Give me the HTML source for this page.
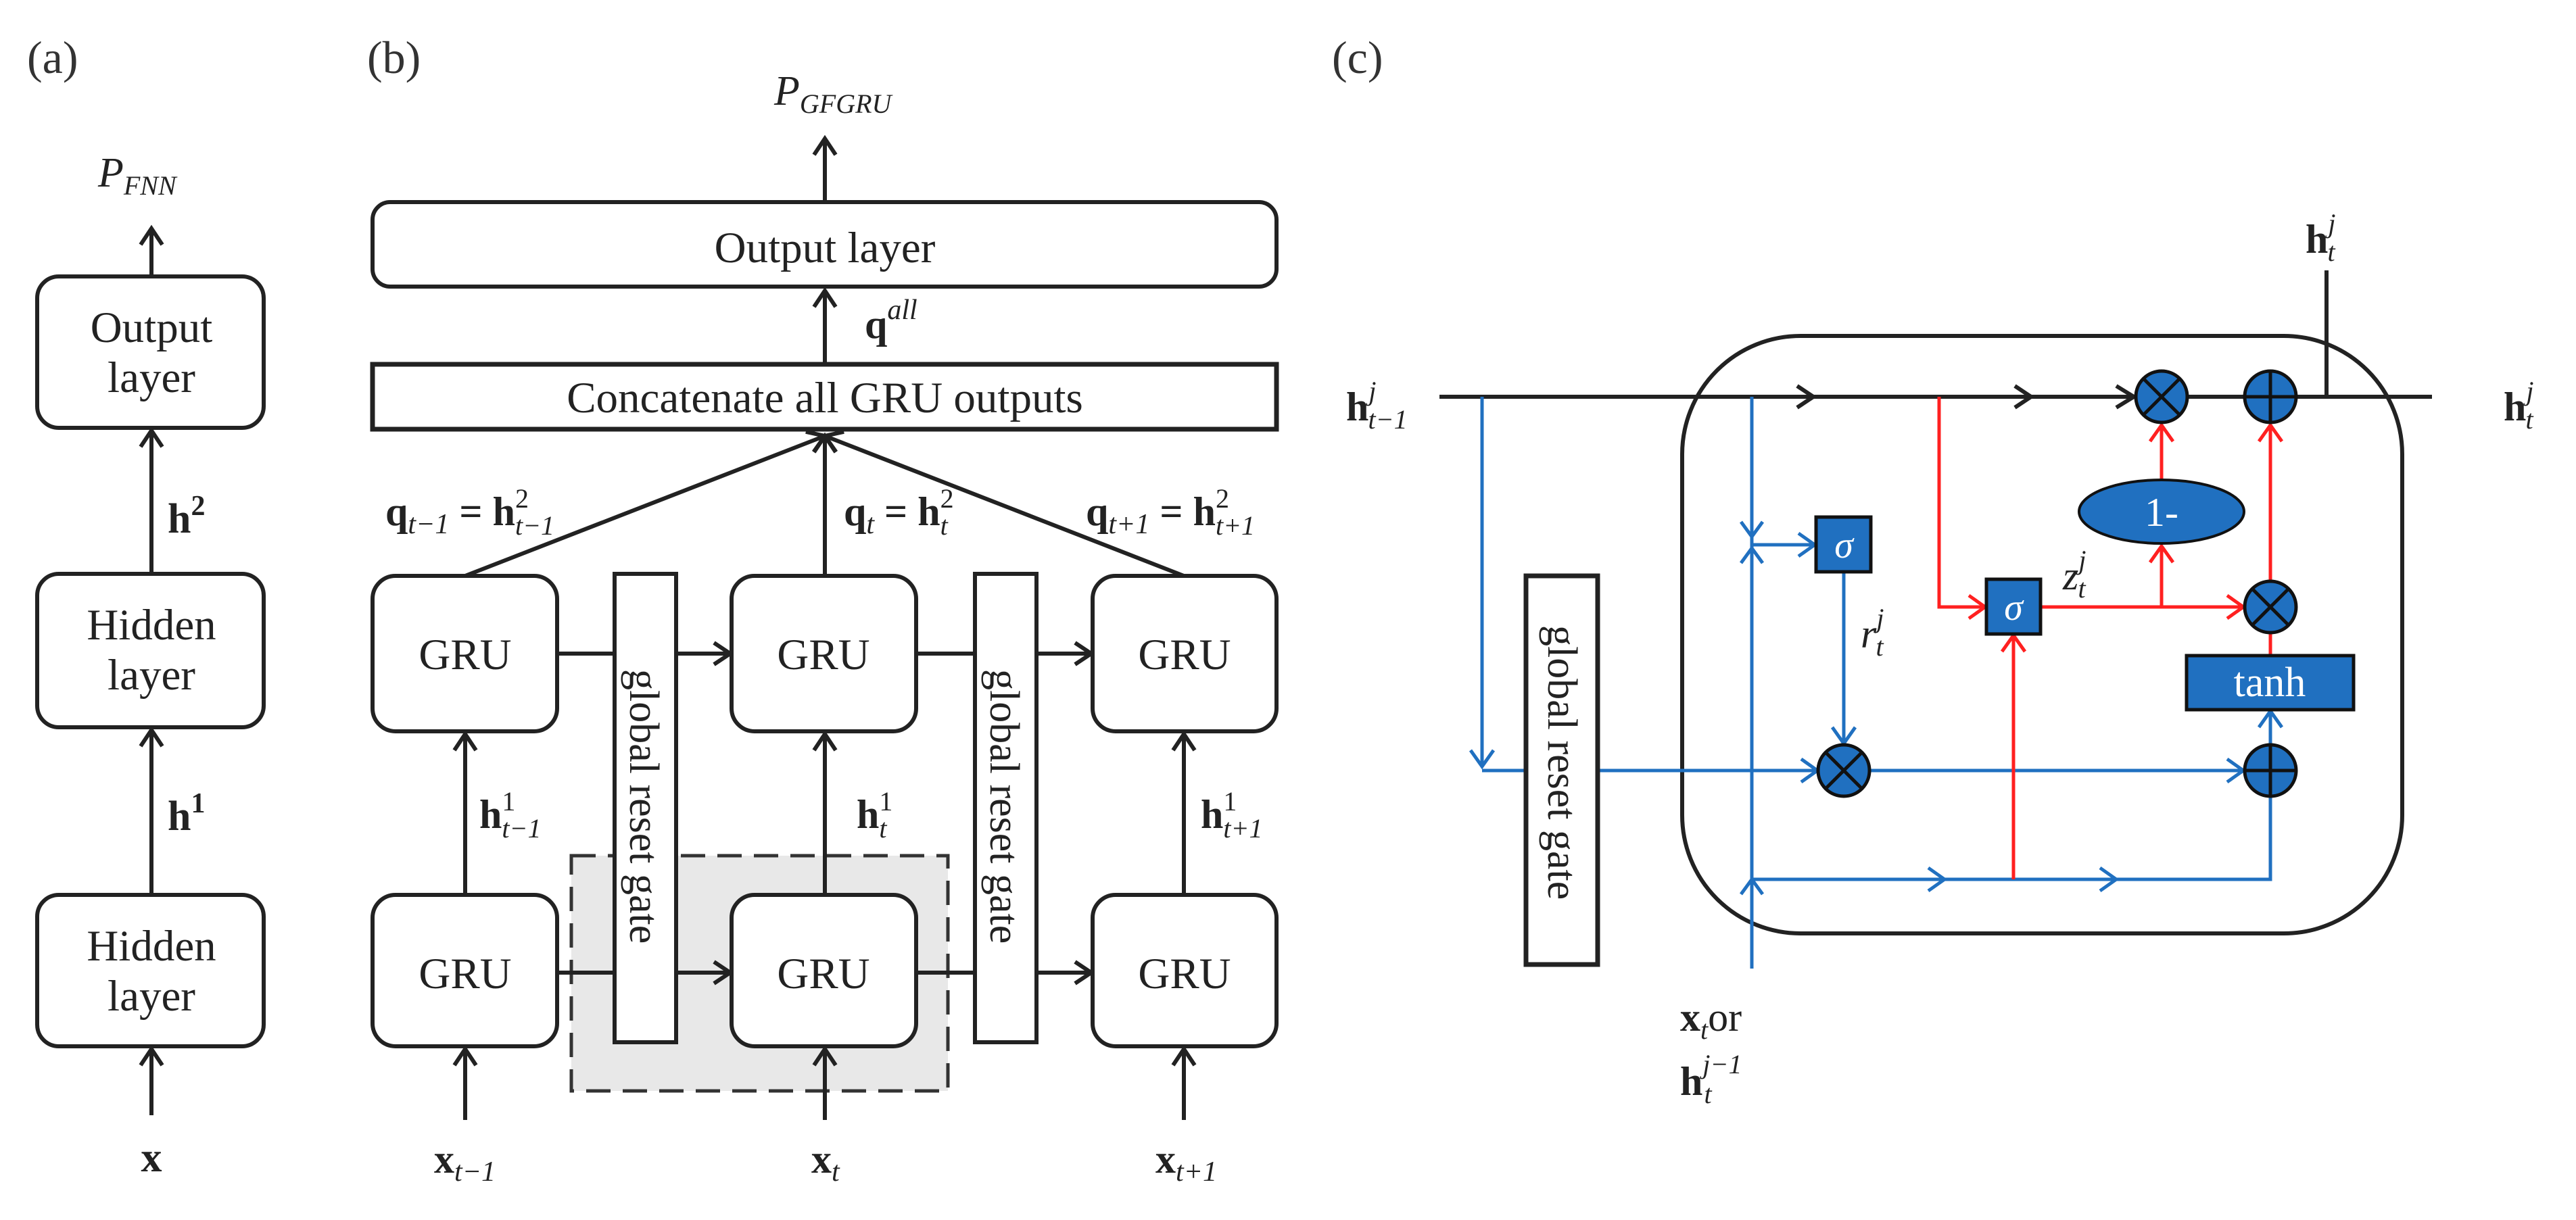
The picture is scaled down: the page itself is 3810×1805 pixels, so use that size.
<!DOCTYPE html>
<html><head><meta charset="utf-8"><style>html,body{margin:0;padding:0;background:#fff}svg{display:block}</style></head>
<body>
<svg xmlns="http://www.w3.org/2000/svg" width="3810" height="1805" viewBox="0 0 3810 1805" font-family="'Liberation Serif', serif">
<defs>
<marker id="ak" markerUnits="userSpaceOnUse" markerWidth="60" markerHeight="60" viewBox="-30 -30 60 60" refX="0" refY="0" orient="auto"><path d="M-24,-16 L0,0 L-24,16" fill="none" stroke="#222" stroke-width="6"/></marker>
<marker id="ab" markerUnits="userSpaceOnUse" markerWidth="60" markerHeight="60" viewBox="-30 -30 60 60" refX="0" refY="0" orient="auto"><path d="M-24,-17 L0,0 L-24,17" fill="none" stroke="#2070c0" stroke-width="5"/></marker>
<marker id="ar" markerUnits="userSpaceOnUse" markerWidth="60" markerHeight="60" viewBox="-30 -30 60 60" refX="0" refY="0" orient="auto"><path d="M-24,-17 L0,0 L-24,17" fill="none" stroke="#ff2020" stroke-width="5"/></marker>
</defs>

<!-- Panel (a) -->
<text x="40" y="108" font-size="68" fill="#333">(a)</text>
<text x="145" y="276" font-size="62" font-style="italic" fill="#222">P<tspan font-size="40" dy="12">FNN</tspan></text>
<g stroke="#222" stroke-width="6" fill="none">
<line x1="224" y1="409" x2="224" y2="338" marker-end="url(#ak)"/>
<line x1="224" y1="849" x2="224" y2="637" marker-end="url(#ak)"/>
<line x1="224" y1="1324" x2="224" y2="1080" marker-end="url(#ak)"/>
<line x1="224" y1="1650" x2="224" y2="1552" marker-end="url(#ak)"/>
<rect x="55" y="409" width="335" height="224" rx="32" fill="#fff"/>
<rect x="55" y="849" width="335" height="227" rx="32" fill="#fff"/>
<rect x="55" y="1324" width="335" height="224" rx="32" fill="#fff"/>
</g>
<g font-size="65" text-anchor="middle" fill="#222">
<text x="224" y="506">Output</text><text x="224" y="580">layer</text>
<text x="224" y="946">Hidden</text><text x="224" y="1020">layer</text>
<text x="224" y="1421">Hidden</text><text x="224" y="1495">layer</text>
</g>
<text x="248" y="788" font-size="62" font-weight="bold" fill="#222">h<tspan font-size="42" dy="-26">2</tspan></text>
<text x="248" y="1228" font-size="62" font-weight="bold" fill="#222">h<tspan font-size="42" dy="-26">1</tspan></text>
<text x="224" y="1733" font-size="62" font-weight="bold" text-anchor="middle" fill="#222">x</text>

<!-- Panel (b) -->
<text x="543" y="108" font-size="68" fill="#333">(b)</text>
<text x="1145" y="155" font-size="62" font-style="italic" fill="#222">P<tspan font-size="40" dy="12">GFGRU</tspan></text>
<rect x="845" y="1266" width="557" height="348" fill="#e8e8e8" stroke="#333" stroke-width="5" stroke-dasharray="36,18"/>
<g stroke="#222" stroke-width="6" fill="none">
<line x1="1220" y1="299" x2="1220" y2="205" marker-end="url(#ak)"/>
<line x1="1220" y1="539" x2="1220" y2="430" marker-end="url(#ak)"/>
<line x1="688" y1="852" x2="1220" y2="645" marker-end="url(#ak)"/>
<line x1="1220" y1="852" x2="1220" y2="645" marker-end="url(#ak)"/>
<line x1="1751" y1="852" x2="1220" y2="645" marker-end="url(#ak)"/>
<line x1="824" y1="967" x2="1080" y2="967" marker-end="url(#ak)"/>
<line x1="1355" y1="967" x2="1614" y2="967" marker-end="url(#ak)"/>
<line x1="824" y1="1439" x2="1080" y2="1439" marker-end="url(#ak)"/>
<line x1="1355" y1="1439" x2="1614" y2="1439" marker-end="url(#ak)"/>
<line x1="688" y1="1324" x2="688" y2="1086" marker-end="url(#ak)"/>
<line x1="1220" y1="1324" x2="1220" y2="1086" marker-end="url(#ak)"/>
<line x1="1751" y1="1324" x2="1751" y2="1086" marker-end="url(#ak)"/>
<line x1="688" y1="1657" x2="688" y2="1552" marker-end="url(#ak)"/>
<line x1="1220" y1="1657" x2="1220" y2="1552" marker-end="url(#ak)"/>
<line x1="1751" y1="1657" x2="1751" y2="1552" marker-end="url(#ak)"/>
<rect x="551" y="299" width="1337" height="125" rx="26" fill="#fff"/>
<rect x="551" y="539" width="1337" height="96" fill="#fff" stroke-width="7"/>
<rect x="551" y="852" width="273" height="230" rx="34" fill="#fff"/>
<rect x="1082" y="852" width="273" height="230" rx="34" fill="#fff"/>
<rect x="1616" y="852" width="272" height="230" rx="34" fill="#fff"/>
<rect x="551" y="1324" width="273" height="224" rx="34" fill="#fff"/>
<rect x="1082" y="1324" width="273" height="224" rx="34" fill="#fff"/>
<rect x="1616" y="1324" width="272" height="224" rx="34" fill="#fff"/>
<rect x="909" y="849" width="91" height="693" fill="#fff"/>
<rect x="1442" y="849" width="91" height="693" fill="#fff"/>
</g>
<g font-size="65" text-anchor="middle" fill="#222">
<text x="1220" y="388">Output layer</text>
<text x="1220" y="610">Concatenate all GRU outputs</text>
<text x="688" y="990">GRU</text><text x="1218" y="990">GRU</text><text x="1752" y="990">GRU</text>
<text x="688" y="1462">GRU</text><text x="1218" y="1462">GRU</text><text x="1752" y="1462">GRU</text>
</g>
<text transform="translate(932,990) rotate(90)" font-size="62" fill="#222">global reset gate</text>
<text transform="translate(1465,990) rotate(90)" font-size="62" fill="#222">global reset gate</text>
<g font-size="60" font-weight="bold" fill="#222">
<text x="1279" y="500">q<tspan font-size="42" font-style="italic" font-weight="normal" dy="-28">all</tspan></text>
<text x="570" y="777">q<tspan font-size="42" font-style="italic" font-weight="normal" dy="12">t−1</tspan><tspan dy="-12"> = h</tspan><tspan font-size="40" font-weight="normal" dy="-26">2</tspan><tspan font-size="40" font-style="italic" font-weight="normal" dx="-20" dy="40">t−1</tspan></text>
<text x="1248" y="777">q<tspan font-size="42" font-style="italic" font-weight="normal" dy="12">t</tspan><tspan dy="-12"> = h</tspan><tspan font-size="40" font-weight="normal" dy="-26">2</tspan><tspan font-size="40" font-style="italic" font-weight="normal" dx="-20" dy="40">t</tspan></text>
<text x="1606" y="777">q<tspan font-size="42" font-style="italic" font-weight="normal" dy="12">t+1</tspan><tspan dy="-12"> = h</tspan><tspan font-size="40" font-weight="normal" dy="-26">2</tspan><tspan font-size="40" font-style="italic" font-weight="normal" dx="-20" dy="40">t+1</tspan></text>
<text x="709" y="1225">h<tspan font-size="40" font-weight="normal" dy="-26">1</tspan><tspan font-size="40" font-style="italic" font-weight="normal" dx="-20" dy="40">t−1</tspan></text>
<text x="1267" y="1225">h<tspan font-size="40" font-weight="normal" dy="-26">1</tspan><tspan font-size="40" font-style="italic" font-weight="normal" dx="-20" dy="40">t</tspan></text>
<text x="1776" y="1225">h<tspan font-size="40" font-weight="normal" dy="-26">1</tspan><tspan font-size="40" font-style="italic" font-weight="normal" dx="-20" dy="40">t+1</tspan></text>
<text x="642" y="1735">x<tspan font-size="42" font-style="italic" font-weight="normal" dy="12">t−1</tspan></text>
<text x="1200" y="1735">x<tspan font-size="42" font-style="italic" font-weight="normal" dy="12">t</tspan></text>
<text x="1709" y="1735">x<tspan font-size="42" font-style="italic" font-weight="normal" dy="12">t+1</tspan></text>
</g>

<!-- Panel (c) -->
<text x="1970" y="108" font-size="68" fill="#333">(c)</text>
<rect x="2488" y="497" width="1065" height="884" rx="175" fill="none" stroke="#222" stroke-width="6"/>
<!-- black main line -->
<g stroke="#222" stroke-width="6" fill="none">
<line x1="2129" y1="587" x2="3597" y2="587"/>
<line x1="3441" y1="400" x2="3441" y2="587"/>
<path d="M2658,571 L2682,587 L2658,603"/>
<path d="M2980,571 L3004,587 L2980,603"/>
<path d="M3130,571 L3156,587 L3130,603"/>
</g>
<!-- blue lines -->
<g stroke="#2070c0" stroke-width="5" fill="none">
<line x1="2192" y1="587" x2="2192" y2="1134" marker-end="url(#ab)"/>
<line x1="2192" y1="1140" x2="2257" y2="1140"/>
<line x1="2363" y1="1140" x2="2688" y2="1140" marker-end="url(#ab)"/>
<line x1="2766" y1="1140" x2="3318" y2="1140" marker-end="url(#ab)"/>
<line x1="2591" y1="587" x2="2591" y2="1433"/>
<path d="M2575,772 L2591,794 L2607,772"/>
<path d="M2575,833 L2591,811 L2607,833"/>
<path d="M2575,1323 L2591,1301 L2607,1323"/>
<line x1="2591" y1="806" x2="2684" y2="806" marker-end="url(#ab)"/>
<line x1="2727" y1="846" x2="2727" y2="1100" marker-end="url(#ab)"/>
<polyline points="2591,1301 3358,1301 3358,1180"/>
<path d="M2852,1284 L2876,1301 L2852,1318"/>
<path d="M3106,1284 L3130,1301 L3106,1318"/>
<line x1="3358" y1="1102" x2="3358" y2="1052" marker-end="url(#ab)"/>
</g>
<!-- red lines -->
<g stroke="#ff2020" stroke-width="5" fill="none">
<line x1="2978" y1="1301" x2="2978" y2="940" marker-end="url(#ar)"/>
<polyline points="2868,587 2868,898 2936,898" marker-end="url(#ar)"/>
<line x1="3018" y1="898" x2="3318" y2="898" marker-end="url(#ar)"/>
<line x1="3197" y1="898" x2="3197" y2="808" marker-end="url(#ar)"/>
<line x1="3197" y1="710" x2="3197" y2="629" marker-end="url(#ar)"/>
<line x1="3358" y1="860" x2="3358" y2="629" marker-end="url(#ar)"/>
<line x1="3358" y1="936" x2="3358" y2="970"/>
</g>
<!-- gate box -->
<rect x="2257" y="852" width="106" height="575" fill="#fff" stroke="#222" stroke-width="7"/>
<text transform="translate(2290,925) rotate(90)" font-size="62" fill="#222">global reset gate</text>
<!-- ops -->
<g stroke="#111" stroke-width="5">
<circle cx="3197" cy="587" r="38" fill="#2070c0"/>
<line x1="3170" y1="560" x2="3224" y2="614"/><line x1="3224" y1="560" x2="3170" y2="614"/>
<circle cx="3358" cy="587" r="38" fill="#2070c0"/>
<line x1="3320" y1="587" x2="3396" y2="587"/><line x1="3358" y1="549" x2="3358" y2="625"/>
<circle cx="3358" cy="898" r="38" fill="#2070c0"/>
<line x1="3331" y1="871" x2="3385" y2="925"/><line x1="3385" y1="871" x2="3331" y2="925"/>
<circle cx="2727" cy="1140" r="38" fill="#2070c0"/>
<line x1="2700" y1="1113" x2="2754" y2="1167"/><line x1="2754" y1="1113" x2="2700" y2="1167"/>
<circle cx="3358" cy="1140" r="38" fill="#2070c0"/>
<line x1="3320" y1="1140" x2="3396" y2="1140"/><line x1="3358" y1="1102" x2="3358" y2="1178"/>
<rect x="2686" y="765" width="81" height="81" fill="#2070c0"/>
<rect x="2938" y="857" width="80" height="81" fill="#2070c0"/>
<rect x="3234" y="970" width="247" height="80" fill="#2070c0"/>
<ellipse cx="3197" cy="757" rx="122" ry="47" fill="#2070c0" stroke-width="4"/>
</g>
<g fill="#fff" text-anchor="middle">
<text x="2727" y="825" font-size="56" font-style="italic">σ</text>
<text x="2978" y="917" font-size="56" font-style="italic">σ</text>
<text x="3357" y="1030" font-size="62">tanh</text>
<text x="3197" y="778" font-size="60">1-</text>
</g>
<g font-size="60" fill="#222">
<text x="2752" y="958" font-style="italic">r<tspan font-size="40" dy="-30">j</tspan><tspan font-size="40" dx="-12" dy="42">t</tspan></text>
<text x="3051" y="872" font-style="italic">z<tspan font-size="40" dy="-30">j</tspan><tspan font-size="40" dx="-12" dy="42">t</tspan></text>
<text x="3410" y="374" font-weight="bold">h<tspan font-size="40" font-style="italic" font-weight="normal" dy="-30">j</tspan><tspan font-size="40" font-style="italic" font-weight="normal" dx="-12" dy="42">t</tspan></text>
<text x="1991" y="622" font-weight="bold">h<tspan font-size="40" font-style="italic" font-weight="normal" dy="-30">j</tspan><tspan font-size="40" font-style="italic" font-weight="normal" dx="-12" dy="42">t−1</tspan></text>
<text x="3703" y="622" font-weight="bold">h<tspan font-size="40" font-style="italic" font-weight="normal" dy="-30">j</tspan><tspan font-size="40" font-style="italic" font-weight="normal" dx="-12" dy="42">t</tspan></text>
<text x="2485" y="1525" font-weight="bold">x<tspan font-size="40" font-style="italic" font-weight="normal" dy="12">t</tspan><tspan font-weight="normal" dy="-12">or</tspan></text>
<text x="2485" y="1620" font-weight="bold">h<tspan font-size="40" font-style="italic" font-weight="normal" dy="-32">j−1</tspan><tspan font-size="40" font-style="italic" font-weight="normal" dx="-56" dy="44">t</tspan></text>
</g>
</svg>
</body></html>
